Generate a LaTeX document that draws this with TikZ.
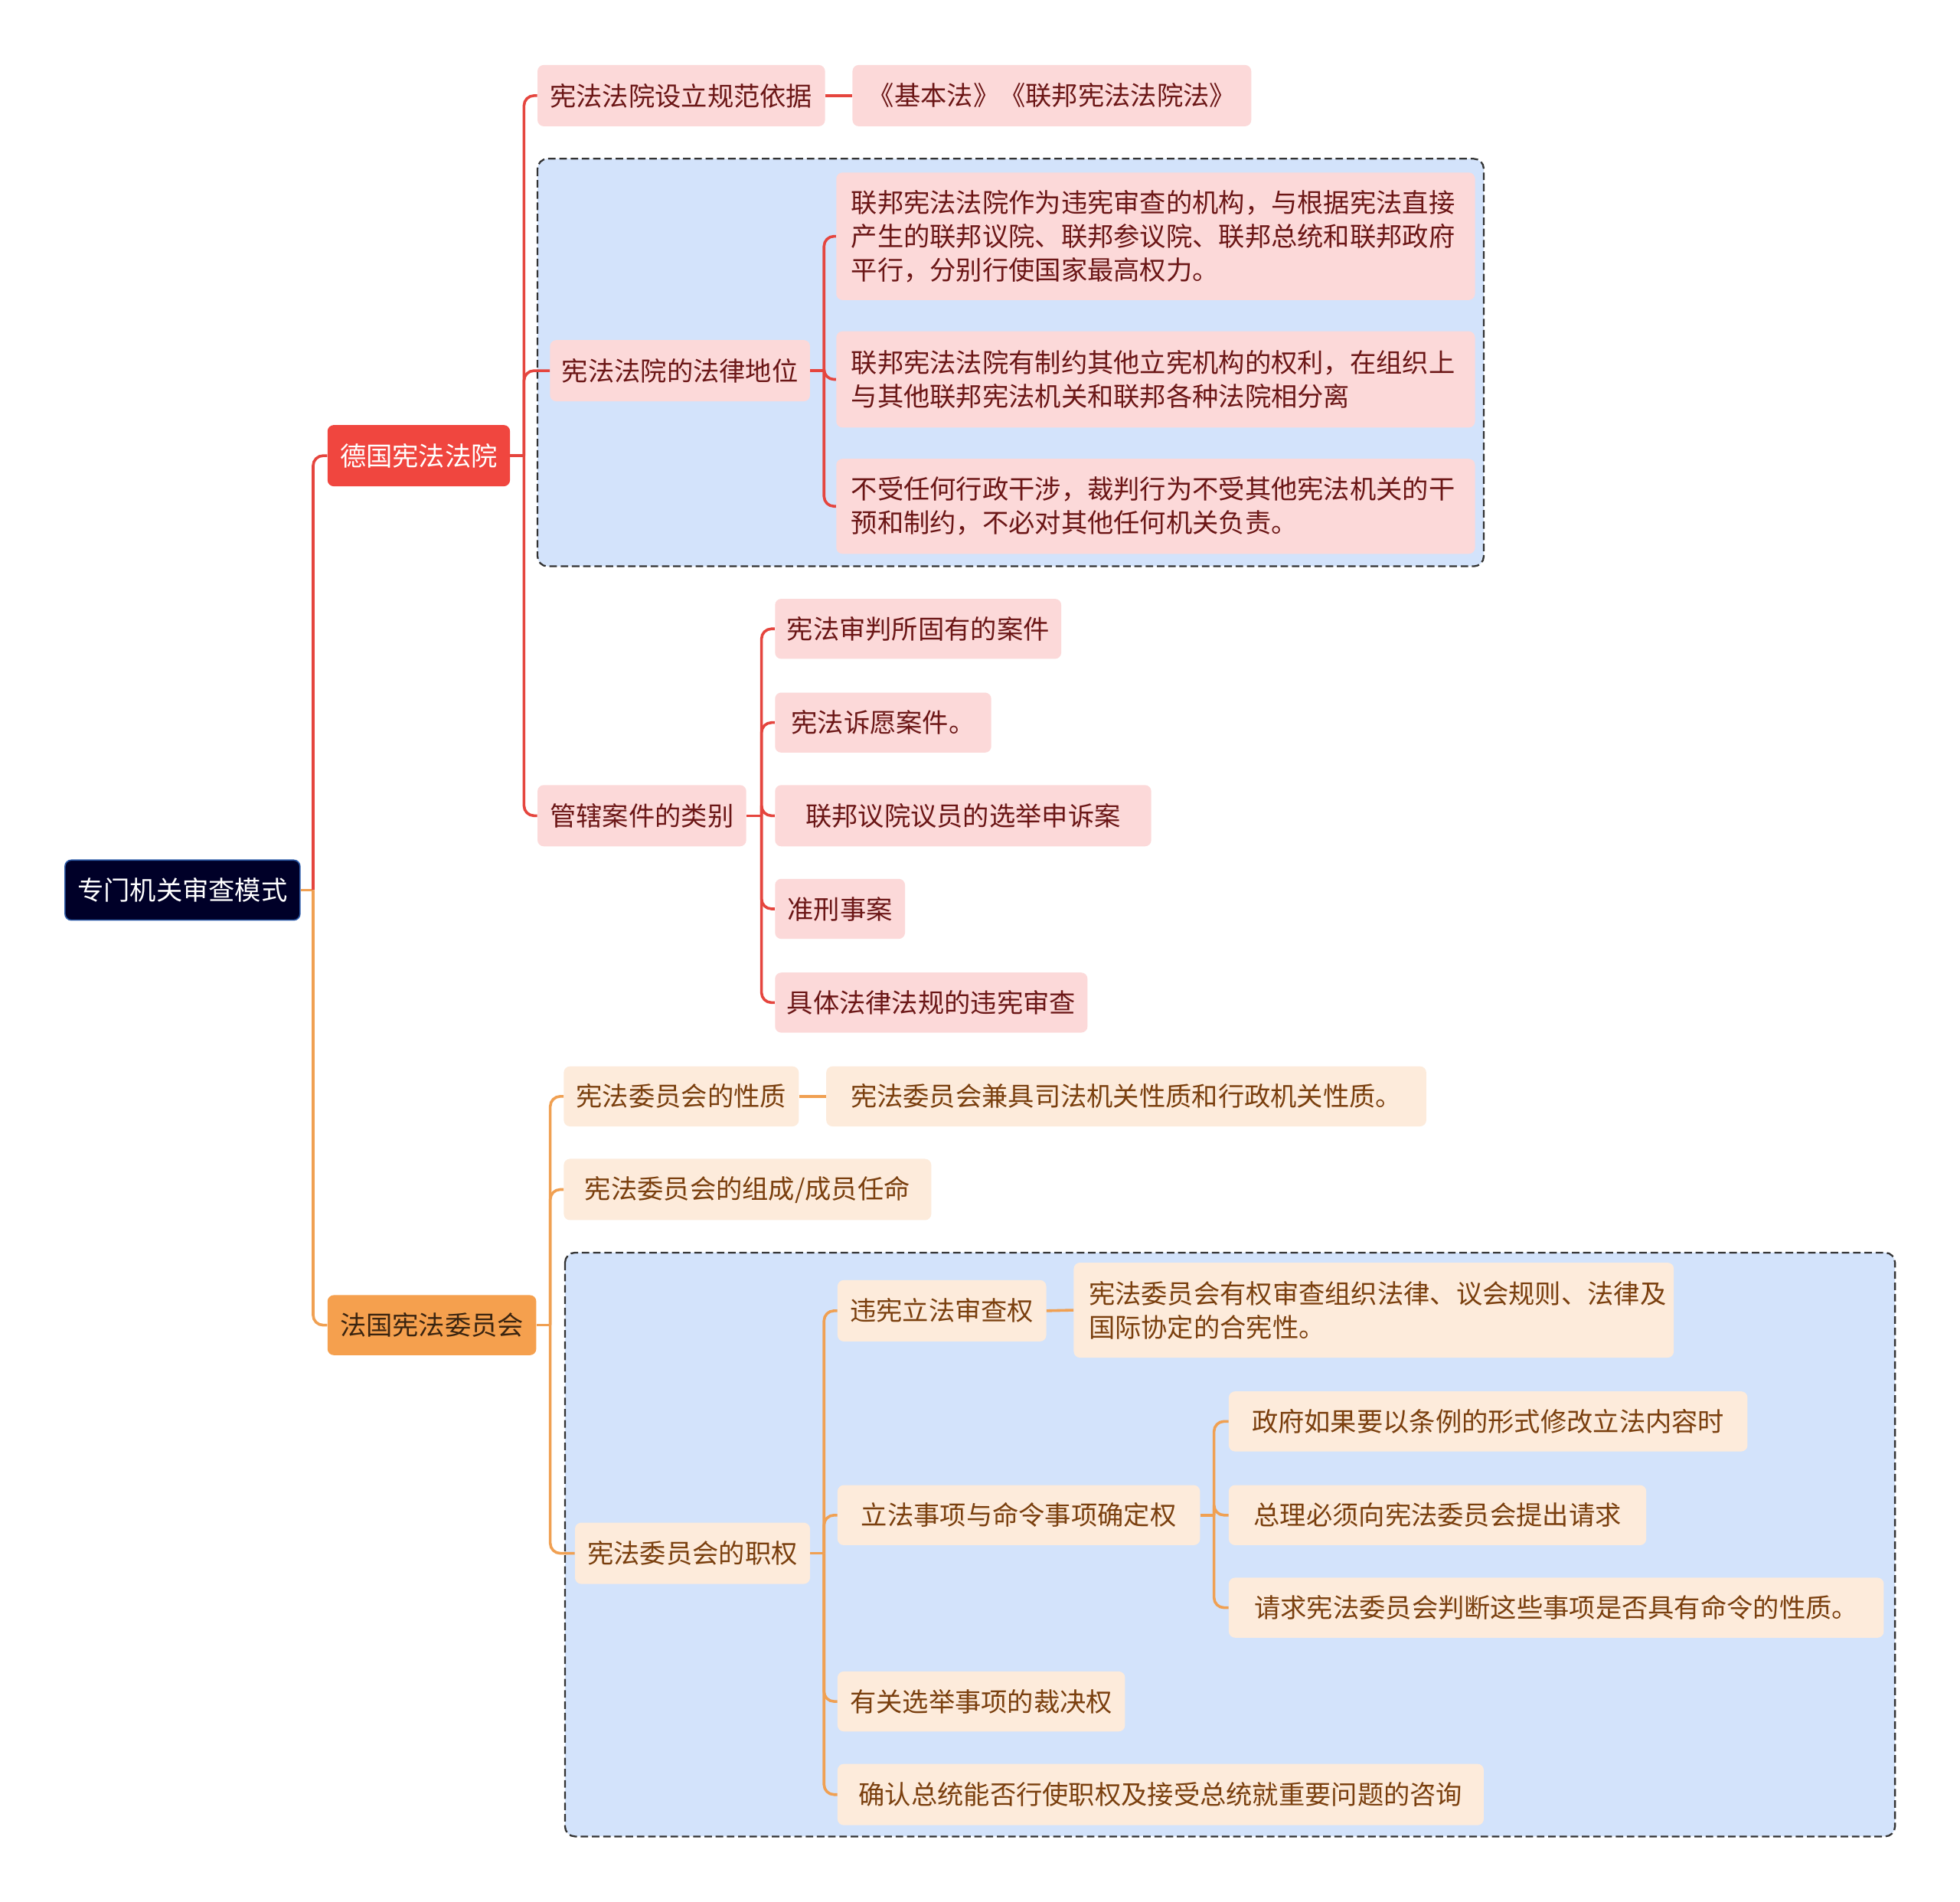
\documentclass[tikz,border=0pt]{standalone}
\usepackage{fontspec}
\newfontfamily\cjk{Noto Sans CJK SC}
\usetikzlibrary{calc}
\definecolor{pinkfill}{HTML}{FCD9D9}
\definecolor{pinktext}{HTML}{6B1616}
\definecolor{peachfill}{HTML}{FDEBDB}
\definecolor{peachtext}{HTML}{7A3F0E}
\definecolor{bluefill}{HTML}{D3E3FB}
\definecolor{redline}{HTML}{E5453E}
\definecolor{orangeline}{HTML}{F0A052}
\definecolor{rootfill}{HTML}{000028}
\definecolor{rootborder}{HTML}{2E5CA8}
\definecolor{defill}{HTML}{F0463F}
\definecolor{frfill}{HTML}{F5A04E}
\definecolor{frtext}{HTML}{3A2410}
\definecolor{dashcol}{HTML}{333333}
\newcommand\mnode[7]{%
  \pgfmathsetmacro\cxx{(#3+#5)/2}\pgfmathsetmacro\cyy{(#4+#6)/2}%
  \pgfmathsetmacro\ww{#5-#3}\pgfmathsetmacro\hh{#6-#4}%
  \node[#1, minimum width=\ww pt, minimum height=\hh pt] (#2) at (\cxx,\cyy) {#7};}
\begin{document}
\begin{tikzpicture}[x=1pt,y=-1pt,
  box/.style={rounded corners=5pt, inner sep=0pt, font=\cjk\fontsize{21}{27}\selectfont},
  pinkbox/.style={box, fill=pinkfill, text=pinktext},
  peachbox/.style={box, fill=peachfill, text=peachtext},
  multi/.style={align=left, text width=#1},
  rl/.style={draw=redline, line width=2.2pt, rounded corners=8pt},
  ol/.style={draw=orangeline, line width=2.2pt, rounded corners=8pt},
  group/.style={fill=bluefill, draw=dashcol, dash pattern=on 6pt off 3pt, line width=1.4pt, rounded corners=8pt}]
\useasboundingbox (0,0) rectangle (1568,1521);
\fill[white] (0,0) rectangle (1568,1521);
% dashed groups
\draw[group] (430,127) rectangle (1187,453);
\draw[group] (452,1002) rectangle (1516,1469);
% root and level 1
\mnode{box, fill=rootfill, draw=rootborder, line width=1pt, text=white}{root}{52}{688}{240}{736}{专门机关审查模式}
\mnode{box, fill=defill, text=white}{de}{262}{340}{408}{389}{德国宪法法院}
\mnode{box, fill=frfill, text=frtext}{fr}{262}{1036}{429}{1084}{法国宪法委员会}
% Germany
\mnode{pinkbox}{basis}{430}{52}{660}{101}{宪法法院设立规范依据}
\mnode{pinkbox}{basisc}{682}{52}{1001}{101}{《基本法》《联邦宪法法院法》}
\mnode{pinkbox}{status}{440}{272}{648}{321}{宪法法院的法律地位}
\mnode{pinkbox, multi=487pt}{st1}{669}{138}{1180}{240}{联邦宪法法院作为违宪审查的机构，与根据宪法直接\\产生的联邦议院、联邦参议院、联邦总统和联邦政府\\平行，分别行使国家最高权力。}
\mnode{pinkbox, multi=487pt}{st2}{669}{265}{1180}{342}{联邦宪法法院有制约其他立宪机构的权利，在组织上\\与其他联邦宪法机关和联邦各种法院相分离}
\mnode{pinkbox, multi=487pt}{st3}{669}{367}{1180}{443}{不受任何行政干涉，裁判行为不受其他宪法机关的干\\预和制约，不必对其他任何机关负责。}
\mnode{pinkbox}{cases}{430}{628}{597}{677}{管辖案件的类别}
\mnode{pinkbox}{c1}{620}{479}{849}{527}{宪法审判所固有的案件}
\mnode{pinkbox}{c2}{620}{554}{793}{602}{宪法诉愿案件。}
\mnode{pinkbox}{c3}{620}{628}{921}{677}{联邦议院议员的选举申诉案}
\mnode{pinkbox}{c4}{620}{703}{724}{751}{准刑事案}
\mnode{pinkbox}{c5}{620}{778}{870}{826}{具体法律法规的违宪审查}
% France
\mnode{peachbox}{nature}{451}{853}{639}{901}{宪法委员会的性质}
\mnode{peachbox}{naturec}{661}{853}{1141}{901}{宪法委员会兼具司法机关性质和行政机关性质。}
\mnode{peachbox}{comp}{451}{927}{745}{976}{宪法委员会的组成/成员任命}
\mnode{peachbox}{powers}{460}{1218}{648}{1267}{宪法委员会的职权}
\mnode{peachbox}{p1}{670}{1024}{837}{1073}{违宪立法审查权}
\mnode{peachbox, multi=456pt}{p1c}{859}{1010}{1339}{1086}{宪法委员会有权审查组织法律、议会规则、法律及\\国际协定的合宪性。}
\mnode{peachbox}{p2}{670}{1188}{960}{1236}{立法事项与命令事项确定权}
\mnode{peachbox}{p2a}{983}{1113}{1398}{1161}{政府如果要以条例的形式修改立法内容时}
\mnode{peachbox}{p2b}{983}{1188}{1317}{1236}{总理必须向宪法委员会提出请求}
\mnode{peachbox}{p2c}{983}{1262}{1507}{1310}{请求宪法委员会判断这些事项是否具有命令的性质。}
\mnode{peachbox}{p3}{670}{1337}{900}{1385}{有关选举事项的裁决权}
\mnode{peachbox}{p4}{670}{1411}{1187}{1460}{确认总统能否行使职权及接受总统就重要问题的咨询}
% connectors: root
\draw[ol] (root.east) -- ++(10,0) coordinate (j0);
\draw[rl] (j0) |- (de.west);
\draw[ol] (j0) |- (fr.west);
% Germany
\draw[rl] (de.east) -- ++(11,0) coordinate (jde);
\draw[rl] (jde) |- (basis.west);
\draw[rl] (jde) |- (status.west);
\draw[rl] (jde) |- (cases.west);
\draw[rl] (basis.east) -- (basisc.west);
\draw[rl] (status.east) -- ++(11,0) coordinate (jst);
\draw[rl] (jst) |- (st1.west);
\draw[rl] (jst) |- (st2.west);
\draw[rl] (jst) |- (st3.west);
\draw[rl] (cases.east) -- ++(12,0) coordinate (jca);
\foreach \c in {c1,c2,c3,c4,c5} \draw[rl] (jca) |- (\c.west);
% France
\draw[ol] (fr.east) -- ++(11,0) coordinate (jfr);
\draw[ol] (jfr) |- (nature.west);
\draw[ol] (jfr) |- (comp.west);
\draw[ol] (jfr) |- (powers.west);
\draw[ol] (nature.east) -- (naturec.west);
\draw[ol] (powers.east) -- ++(11,0) coordinate (jpw);
\foreach \c in {p1,p2,p3,p4} \draw[ol] (jpw) |- (\c.west);
\draw[ol] (p1.east) -- (p1c.west);
\draw[ol] (p2.east) -- ++(11,0) coordinate (jp2);
\foreach \c in {p2a,p2b,p2c} \draw[ol] (jp2) |- (\c.west);
\end{tikzpicture}
\end{document}
